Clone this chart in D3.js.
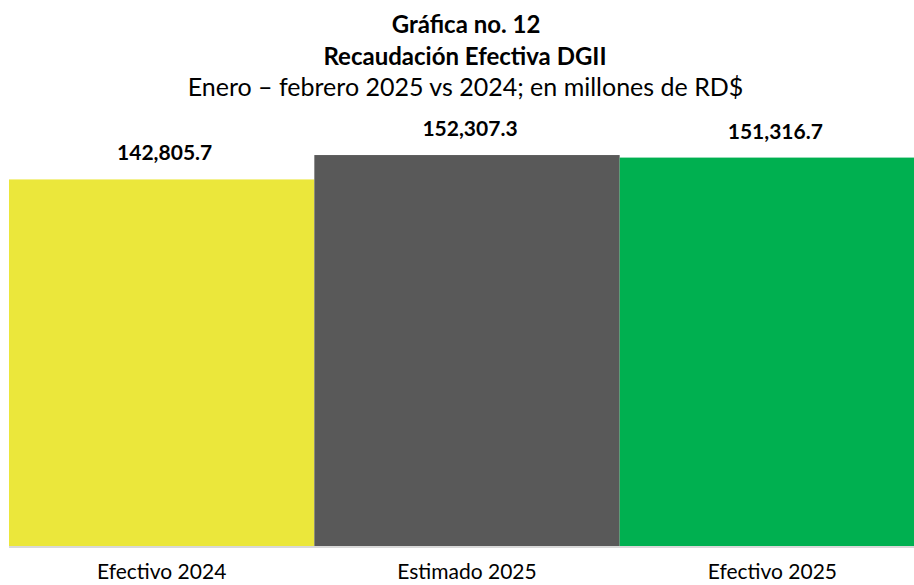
<!DOCTYPE html>
<html>
<head>
<meta charset="utf-8">
<script src="https://cdn.jsdelivr.net/npm/d3@7"></script>
<style>
  html, body { margin: 0; padding: 0; background: #fff; }
  svg { display: block; }
  text { font-family: Lato, "Open Sans", sans-serif; fill: #000; }
</style>
</head>
<body>
<svg id="chart" width="914" height="585"></svg>
<script>
const categories = ["Efectivo 2024", "Estimado 2025", "Efectivo 2025"];
const values = [142805.7, 152307.3, 151316.7];
const valueLabels = ["142,805.7", "152,307.3", "151,316.7"];
const colors = ["#ebe73b", "#595959", "#00b050"];
const titleLines = ["Gráfica no. 12", "Recaudación Efectiva DGII"];
const subtitle = "Enero – febrero 2025 vs 2024; en millones de RD$";

const data = categories.map((c, i) => ({ cat: c, value: values[i], label: valueLabels[i], color: colors[i] }));

const svg = d3.select("#chart");

const x = d3.scaleBand().domain(categories).range([9, 925]).padding(0);
const y = d3.scaleLinear().domain([0, 160000]).range([546, 135.3]);

// Titles
svg.append("text").attr("x", 466).attr("y", 32.5).attr("text-anchor", "middle")
  .style("font-weight", "bold").style("font-size", "24px").text(titleLines[0]);
svg.append("text").attr("x", 465).attr("y", 65).attr("text-anchor", "middle")
  .style("font-weight", "bold").style("font-size", "24px").text(titleLines[1]);
svg.append("text").attr("x", 465.5).attr("y", 96).attr("text-anchor", "middle")
  .style("font-size", "25px").text(subtitle);

// Bars
svg.append("g").selectAll("rect").data(data).join("rect")
  .attr("x", d => x(d.cat))
  .attr("y", d => y(d.value))
  .attr("width", x.bandwidth())
  .attr("height", d => y(0) - y(d.value))
  .attr("fill", d => d.color);

// Value labels
svg.append("g").selectAll("text").data(data).join("text")
  .attr("x", d => x(d.cat) + x.bandwidth() / 2 + 3)
  .attr("y", d => y(d.value) - 19)
  .attr("text-anchor", "middle")
  .style("font-weight", "bold").style("font-size", "21px")
  .text(d => d.label);

// Axis
const axis = svg.append("g").attr("transform", "translate(0,547)")
  .call(d3.axisBottom(x).tickSize(0).tickSizeOuter(0));
axis.select(".domain").attr("stroke", "#d9d9d9").attr("stroke-width", 1.8)
  .attr("d", "M9,0H914");
axis.selectAll(".tick text")
  .attr("y", 32).attr("dy", 0)
  .style("font-family", "Lato, 'Open Sans', sans-serif")
  .style("font-size", "21px").attr("fill", "#000");
</script>
</body>
</html>
